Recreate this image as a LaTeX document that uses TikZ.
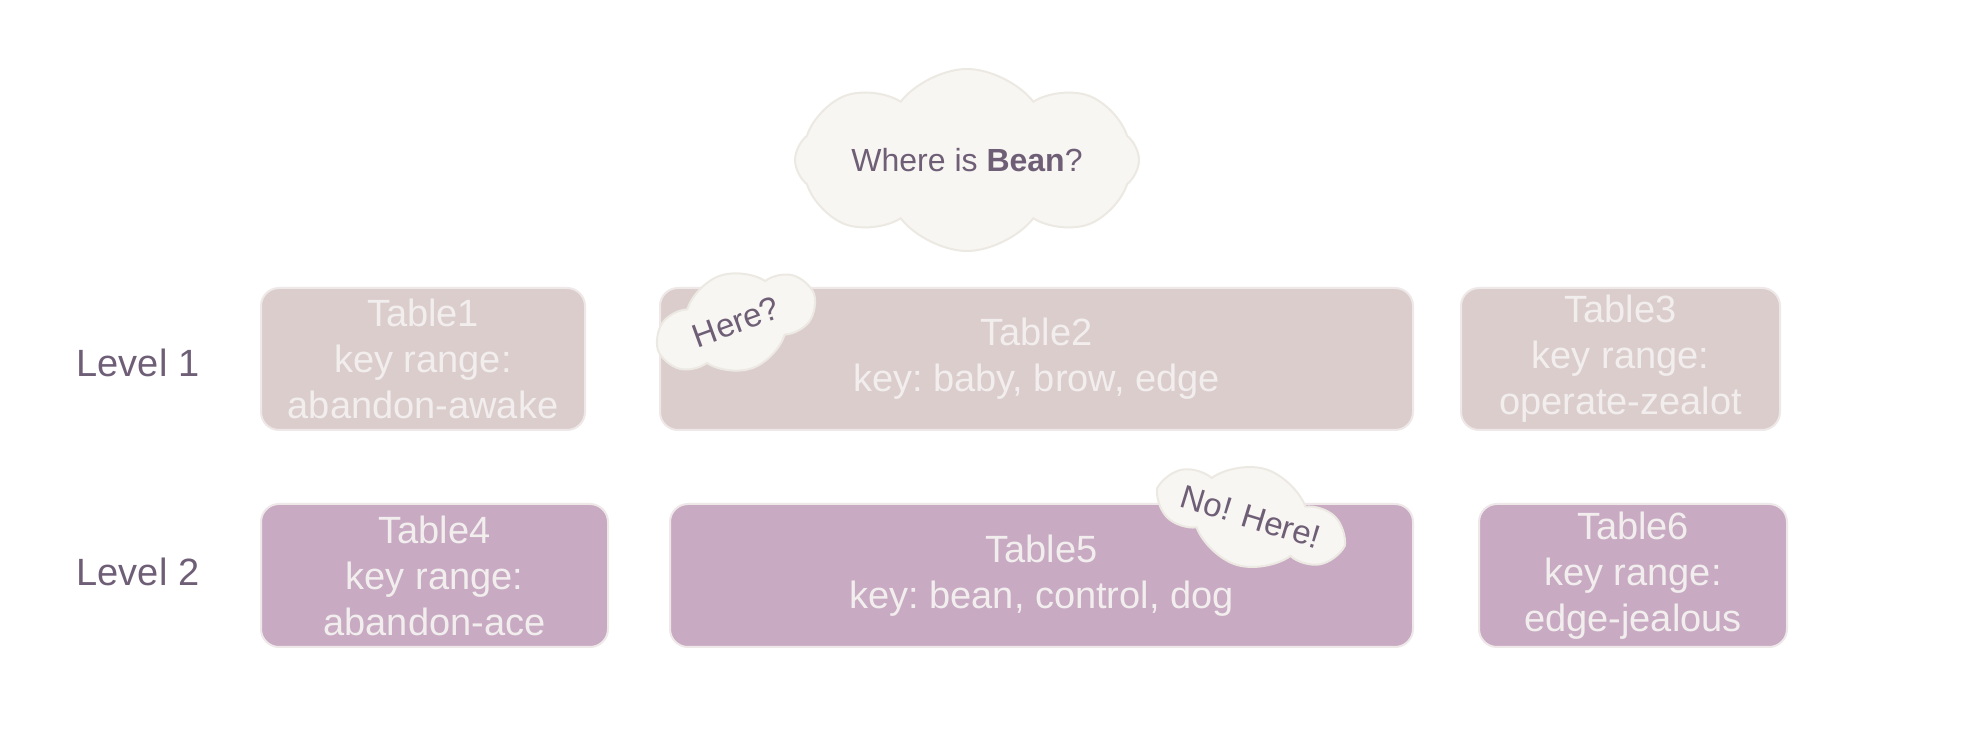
\documentclass[tikz,border=0pt]{standalone}
\usepackage{fontspec}
\setmainfont{Liberation Sans}
\usetikzlibrary{shapes.symbols}
\definecolor{lvlone}{HTML}{DCCDCD}
\definecolor{lvltwo}{HTML}{C8AAC3}
\definecolor{boxtext}{HTML}{F2EEEE}
\definecolor{boxline}{HTML}{EEE8E8}
\definecolor{darktext}{HTML}{6E5E76}
\definecolor{cloudfill}{HTML}{F8F6F2}
\definecolor{cloudline}{HTML}{ECE9E3}
\tikzset{
  tablebox/.style={draw=boxline, line width=2pt, rounded corners=18pt, inner sep=0pt,
    text=boxtext, align=center, font=\fontsize{38}{46}\selectfont\frenchspacing},
  lvlonebox/.style={tablebox, fill=lvlone, minimum height=142pt},
  lvltwobox/.style={tablebox, fill=lvltwo, minimum height=143pt},
  levellabel/.style={text=darktext, font=\fontsize{38}{46}\selectfont},
  thought/.style={cloud, cloud ignores aspect, draw=cloudline, line width=2pt, fill=cloudfill,
    text=darktext, inner sep=0pt, cloud puff arc=105}
}
\begin{document}
\begin{tikzpicture}[x=1pt,y=1pt]
\useasboundingbox (0,0) rectangle (1970,752);
% level 1
\node[lvlonebox, minimum width=324pt] (t1) at (423,393) {Table1\\key range:\\abandon-awake};
\node[lvlonebox, minimum width=753pt] (t2) at (1036.5,393) {Table2\\key: baby, brow, edge};
\node[lvlonebox, minimum width=319pt] (t3) at (1620.5,393) {Table3\\key range:\\operate-zealot};
% level 2
\node[lvltwobox, minimum width=347pt] (t4) at (434.5,176.5) {Table4\\key range:\\abandon-ace};
\node[lvltwobox, minimum width=743pt] (t5) at (1041.5,176.5) {Table5\\key: bean, control, dog};
\node[lvltwobox, minimum width=308pt] (t6) at (1633,176.5) {Table6\\key range:\\edge-jealous};
% labels
\node[levellabel] (l1) at (138,389) {Level 1};
\node[levellabel] (l2) at (138,180) {Level 2};
% clouds
\node[thought, cloud puffs=8, minimum width=344pt, minimum height=182pt,
  font=\fontsize{32}{38}\selectfont] (q) at (967,592) {Where is \textbf{Bean}?};
\node[thought, cloud puffs=6, minimum width=160pt, minimum height=98pt, rotate=20,
  font=\fontsize{33}{38}\selectfont] (h1) at (736,430) {Here?};
\node[thought, cloud puffs=6, minimum width=152pt, minimum height=100pt, rotate=-17,
  font=\fontsize{33}{38}\selectfont] (h2) at (1251,235) {No! Here!};
\end{tikzpicture}
\end{document}
